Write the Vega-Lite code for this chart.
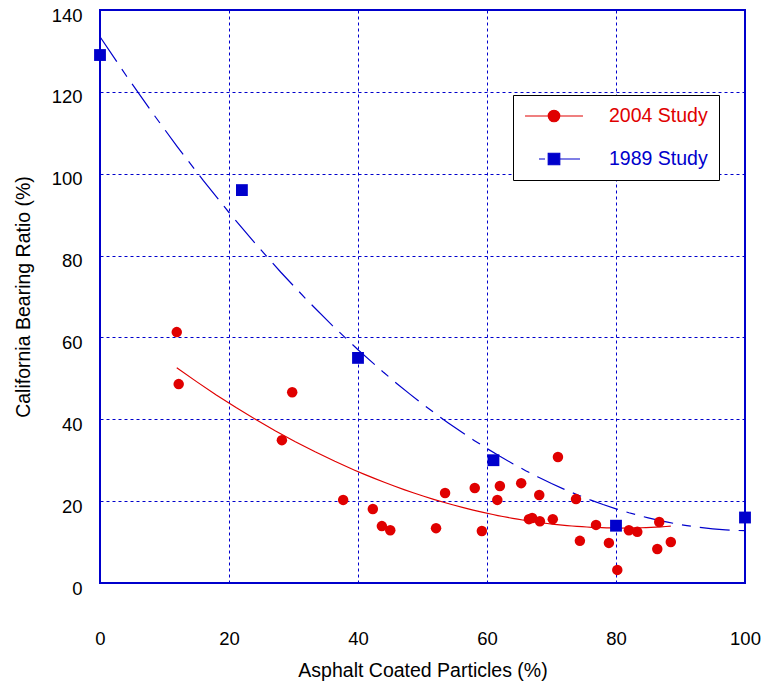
{
  "$schema": "https://vega.github.io/schema/vega-lite/v6.json",
  "width": 645,
  "height": 573,
  "autosize": {"type": "none"},
  "padding": {"left": 100, "top": 10, "right": 21, "bottom": 105},
  "config": {
    "font": "Liberation Sans",
    "view": {"stroke": "#0000cc", "strokeWidth": 2},
    "axis": {
      "domain": false,
      "ticks": false,
      "grid": true,
      "gridColor": "#0000cc",
      "gridDash": [3, 3],
      "gridWidth": 1,
      "gridOpacity": 1,
      "labelFlush": false,
      "labelFont": "Liberation Sans",
      "labelFontSize": 18.5,
      "labelColor": "#000000",
      "titleFont": "Liberation Sans",
      "titleFontSize": 19.5,
      "titleFontWeight": "normal",
      "titleColor": "#000000"
    }
  },
  "data": {
    "values": [
      {"study": "1989 Study", "x": 0, "y": 129},
      {"study": "1989 Study", "x": 22, "y": 96},
      {"study": "1989 Study", "x": 40, "y": 55},
      {"study": "1989 Study", "x": 61, "y": 30},
      {"study": "1989 Study", "x": 80, "y": 14},
      {"study": "1989 Study", "x": 100, "y": 16},
      {"study": "2004 Study", "x": 11.9, "y": 61.3},
      {"study": "2004 Study", "x": 12.2, "y": 48.6},
      {"study": "2004 Study", "x": 28.2, "y": 34.9},
      {"study": "2004 Study", "x": 29.8, "y": 46.6},
      {"study": "2004 Study", "x": 37.7, "y": 20.3},
      {"study": "2004 Study", "x": 42.3, "y": 18.1},
      {"study": "2004 Study", "x": 43.7, "y": 13.9},
      {"study": "2004 Study", "x": 45.0, "y": 12.9},
      {"study": "2004 Study", "x": 52.1, "y": 13.4},
      {"study": "2004 Study", "x": 53.5, "y": 22.0},
      {"study": "2004 Study", "x": 58.1, "y": 23.2},
      {"study": "2004 Study", "x": 59.2, "y": 12.7},
      {"study": "2004 Study", "x": 61.6, "y": 20.3},
      {"study": "2004 Study", "x": 62.0, "y": 23.7},
      {"study": "2004 Study", "x": 65.3, "y": 24.4},
      {"study": "2004 Study", "x": 66.5, "y": 15.6},
      {"study": "2004 Study", "x": 67.0, "y": 15.9},
      {"study": "2004 Study", "x": 68.2, "y": 15.1},
      {"study": "2004 Study", "x": 68.1, "y": 21.5},
      {"study": "2004 Study", "x": 70.2, "y": 15.6},
      {"study": "2004 Study", "x": 71.0, "y": 30.8},
      {"study": "2004 Study", "x": 73.8, "y": 20.5},
      {"study": "2004 Study", "x": 74.4, "y": 10.3},
      {"study": "2004 Study", "x": 76.9, "y": 14.2},
      {"study": "2004 Study", "x": 78.9, "y": 9.8},
      {"study": "2004 Study", "x": 80.2, "y": 3.2},
      {"study": "2004 Study", "x": 82.0, "y": 12.9},
      {"study": "2004 Study", "x": 83.3, "y": 12.5},
      {"study": "2004 Study", "x": 86.4, "y": 8.3},
      {"study": "2004 Study", "x": 86.7, "y": 14.9},
      {"study": "2004 Study", "x": 88.5, "y": 10.0}
    ]
  },
  "layer": [
    {
      "transform": [
        {"filter": {"field": "study", "equal": "2004 Study"}},
        {"regression": "y", "on": "x", "method": "poly", "order": 2}
      ],
      "mark": {"type": "line", "strokeWidth": 1.2, "color": "#e00000"},
      "encoding": {
        "x": {"field": "x", "type": "quantitative", "scale": {"domain": [0, 100], "nice": false}},
        "y": {"field": "y", "type": "quantitative", "scale": {"domain": [0, 140], "nice": false}}
      }
    },
    {
      "transform": [
        {"filter": {"field": "study", "equal": "1989 Study"}},
        {"regression": "y", "on": "x", "method": "poly", "order": 2}
      ],
      "mark": {"type": "line", "strokeWidth": 1.2, "color": "#0000cc", "strokeDash": [30, 9, 9, 9]},
      "encoding": {
        "x": {"field": "x", "type": "quantitative"},
        "y": {"field": "y", "type": "quantitative"}
      }
    },
    {
      "transform": [{"filter": {"field": "study", "equal": "2004 Study"}}],
      "mark": {"type": "point", "filled": true, "opacity": 1, "shape": "circle", "size": 110, "color": "#e00000"},
      "encoding": {
        "x": {"field": "x", "type": "quantitative"},
        "y": {"field": "y", "type": "quantitative"}
      }
    },
    {
      "transform": [{"filter": {"field": "study", "equal": "1989 Study"}}],
      "mark": {"type": "point", "filled": true, "opacity": 1, "shape": "square", "size": 140, "color": "#0000cc"},
      "encoding": {
        "x": {"field": "x", "type": "quantitative"},
        "y": {"field": "y", "type": "quantitative"}
      }
    },
    {
      "transform": [{"filter": "datum.x < -1"}],
      "mark": {"type": "point", "filled": true, "opacity": 1, "strokeWidth": 1.2},
      "encoding": {
        "x": {
          "field": "x", "type": "quantitative",
          "scale": {"domain": [0, 100], "nice": false},
          "axis": {"values": [0, 20, 40, 60, 80, 100], "labelPadding": 46, "title": "Asphalt Coated Particles (%)", "titlePadding": 14}
        },
        "y": {
          "field": "y", "type": "quantitative",
          "scale": {"domain": [0, 140], "nice": false},
          "axis": {"values": [0, 20, 40, 60, 80, 100, 120, 140], "labelPadding": 18, "labelOffset": 5, "title": "California Bearing Ratio (%)", "titlePadding": 18}
        },
        "shape": {
          "field": "study", "type": "nominal",
          "scale": {
            "domain": ["2004 Study", "1989 Study"],
            "range": ["M-3.22,0H3.22M-0.64,0A0.64,0.64,0,1,1,0.64,0A0.64,0.64,0,1,1,-0.64,0Z", "M-1.67,0H-1M-0.64,-0.64H0.64V0.64H-0.64ZM0.64,0H2.89"]
          },
          "legend": null
        },
        "stroke": {
          "field": "study", "type": "nominal",
          "scale": {"domain": ["2004 Study", "1989 Study"], "range": ["#e00000", "#0000cc"]},
          "legend": null
        },
        "color": {
          "field": "study", "type": "nominal",
          "scale": {"domain": ["2004 Study", "1989 Study"], "range": ["#e00000", "#0000cc"]},
          "legend": {
            "title": null,
            "orient": "none",
            "legendX": 413,
            "legendY": 85,
            "padding": 11,
            "strokeColor": "#000000",
            "fillColor": "#ffffff",
            "labelFont": "Liberation Sans",
            "labelFontSize": 19.5,
            "labelOffset": 45,
            "symbolOffset": 20,
            "labelColor": {"expr": "datum.value === '2004 Study' ? '#e00000' : '#0000cc'"},
            "rowPadding": 23,
            "symbolSize": 324,
            "symbolStrokeWidth": 1.2,
            "encode": {
              "legend": {
                "strokeWidth": {"value": 2}
              },
              "symbols": {
                "size": {"value": 324},
                "strokeWidth": {"value": 1.2},
                "opacity": {"value": 1}
              }
            }
          }
        }
      }
    }
  ]
}
